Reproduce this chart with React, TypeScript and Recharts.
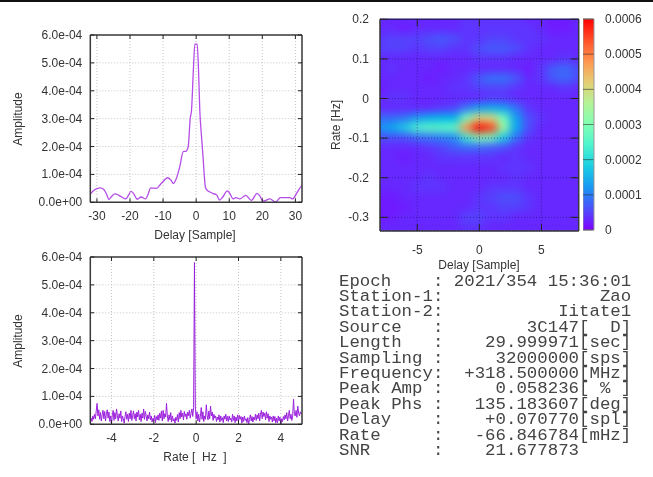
import {
  Bar,
  BarChart,
  CartesianGrid,
  Label,
  Line,
  LineChart,
  ReferenceLine,
  Scatter,
  ScatterChart,
  XAxis,
  YAxis,
} from "recharts";

const FONT = "'Liberation Sans', Arial, sans-serif";
const INK = "#333";

// amplitude vs delay, amplitude in units of 1e-4
const delaySamples = [
  -32, -31, -30, -29, -28, -27, -26.4, -25.5, -24.6, -23.5, -22.5, -21.3, -20.5, -19.7, -19, -17.8, -16.6, -15.3,
  -14.5, -13.8, -12, -10.5, -8.6, -7.5, -6.9, -6, -5, -3.9, -3.1, -2.4, -1.8, -1.4, -0.8, -0.4, 0.3, 0.7, 1.1, 1.6,
  2.1, 2.5, 2.8, 3.4, 4, 5.1, 6.1, 7.1, 8, 9.4, 10, 11.2, 12, 13.2, 15, 16.7, 18.4, 19.3, 20.2, 22.3, 24, 25.5, 28.3,
  29.1, 30.5, 31.8, 32,
];
const delayAmplitude = [
  0.29, 0.42, 0.49, 0.52, 0.47, 0.27, 0.1, 0.22, 0.3, 0.26, 0.19, 0.12, 0.24, 0.39, 0.33, 0.11, 0.19, 0.12, 0.3, 0.51,
  0.5, 0.68, 0.88, 0.78, 0.67, 0.85, 1.25, 1.82, 1.83, 2.0, 3.0, 3.3, 4.85, 5.67, 5.67, 4.8, 3.3, 2.4, 1.6, 0.9, 0.54,
  0.42, 0.38, 0.31, 0.28, 0.08, 0.18, 0.41, 0.35, 0.12, 0.17, 0.12, 0.25, 0.07, 0.32, 0.22, 0.04, 0.12, 0.01, 0.17,
  0.17, 0.12, 0.35, 0.58, 0.6,
];

// amplitude vs rate, evenly sampled over -5..5 Hz, units of 1e-4
const rateAmplitude = [
  0.15, 0.22, 0.1, 0.3, 0.18, 0.36, 0.2, 0.48, 0.75, 0.3, 0.52, 0.18, 0.42, 0.12, 0.34, 0.5, 0.2, 0.46, 0.12, 0.38,
  0.52, 0.22, 0.44, 0.1, 0.3, 0.0, 0.34, 0.5, 0.14, 0.42, 0.2, 0.55, 0.3, 0.12, 0.38, 0.22, 0.48, 0.1, 0.3, 0.2,
  0.04, 0.28, 0.45, 0.18, 0.36, 0.1, 0.4, 0.2, 0.5, 0.14, 0.32, 0.48, 0.2, 0.38, 0.12, 0.44, 0.26, 0.5, 0.16, 0.36,
  0.1, 0.4, 0.22, 0.55, 0.18, 0.46, 0.3, 0.12, 0.34, 0.2, 0.44, 0.16, 0.3, 0.08, 0.22, 0.12, 0.32, 0.06, 0.28, 0.16,
  0.34, 0.14, 0.4, 0.22, 0.48, 0.12, 0.5, 0.2, 0.38, 0.26, 0.75, 0.3, 0.1, 0.34, 0.16, 0.42, 0.08, 0.3, 0.12, 0.2,
  0.04, 0.26, 0.14, 0.35, 0.08, 0.42, 0.2, 0.5, 0.26, 0.4, 0.16, 0.46, 0.28, 0.38, 0.18, 0.44, 0.3, 0.5, 0.22, 0.4,
  0.55, 0.28, 0.6, 5.8, 0.62, 0.2, 0.45, 0.12, 0.36, 0.08, 0.28, 0.6, 0.18, 0.45, 0.1, 0.3, 0.18, 0.7, 0.3, 0.16,
  0.48, 0.2, 0.65, 0.3, 0.44, 0.14, 0.36, 0.22, 0.3, 0.1, 0.26, 0.16, 0.34, 0.08, 0.3, 0.14, 0.24, 0.06, 0.3, 0.18,
  0.36, 0.12, 0.28, 0.1, 0.3, 0.16, 0.22, 0.08, 0.36, 0.14, 0.3, 0.06, 0.26, 0.12, 0.34, 0.1, 0.32, 0.18, 0.28, 0.04,
  0.26, 0.1, 0.3, 0.14, 0.2, 0.06, 0.24, 0.0, 0.18, 0.34, 0.12, 0.28, 0.08, 0.26, 0.16, 0.36, 0.14, 0.34, 0.2, 0.4,
  0.12, 0.36, 0.5, 0.2, 0.44, 0.28, 0.4, 0.16, 0.45, 0.22, 0.38, 0.1, 0.3, 0.18, 0.26, 0.08, 0.3, 0.12, 0.28, 0.05,
  0.22, 0.06, 0.3, 0.12, 0.26, 0.02, 0.2, 0.1, 0.28, 0.16, 0.34, 0.2, 0.42, 0.12, 0.3, 0.5, 0.2, 0.36, 0.14, 0.3,
  0.9, 0.35, 0.3, 0.5, 0.25, 0.65, 0.4, 0.3, 0.45, 0.38, 0.42,
];

// fringe map: amplitude in units of 1e-5, one row per rate, one column per delay
const mapDelays = [-8, -7, -6, -5, -4, -3, -2, -1, 0, 1, 2, 3, 4, 5, 6, 7, 8];
const mapRates = [
  0.2, 0.175, 0.15, 0.125, 0.1, 0.075, 0.05, 0.025, 0, -0.025, -0.05, -0.075, -0.1, -0.125, -0.15, -0.175, -0.2,
  -0.225, -0.25, -0.275, -0.3, -0.325,
];
const mapValues = [
  [3, 3, 3, 3, 3, 3, 3, 4, 4, 4, 4, 4, 3, 3, 2, 2, 3],
  [3, 3, 2, 3, 3, 3, 3, 4, 4, 4, 4, 4, 4, 3, 2, 2, 3],
  [4, 5, 5, 5, 6, 7, 6, 4, 4, 5, 5, 4, 4, 4, 3, 3, 3],
  [5, 5, 5, 4, 5, 5, 4, 4, 6, 7, 7, 6, 4, 3, 3, 3, 3],
  [3, 3, 3, 3, 3, 3, 3, 3, 4, 4, 4, 3, 3, 3, 3, 4, 3],
  [3, 4, 3, 3, 3, 2, 3, 3, 3, 3, 3, 3, 2, 4, 7, 8, 6],
  [3, 3, 3, 3, 2, 3, 3, 4, 7, 9, 9, 7, 3, 4, 7, 8, 6],
  [2, 3, 3, 3, 3, 3, 4, 4, 5, 5, 5, 4, 3, 3, 3, 4, 3],
  [3, 4, 4, 3, 3, 3, 3, 3, 3, 4, 4, 3, 3, 3, 3, 3, 3],
  [3, 3, 3, 3, 3, 4, 5, 9, 13, 14, 13, 9, 4, 3, 3, 3, 3],
  [8, 8, 9, 12, 14, 15, 15, 28, 40, 40, 28, 13, 6, 4, 3, 3, 3],
  [12, 14, 18, 24, 26, 26, 27, 48, 68, 56, 34, 14, 6, 3, 3, 3, 3],
  [6, 6, 6, 8, 9, 10, 11, 22, 30, 28, 18, 9, 4, 3, 3, 3, 3],
  [3, 3, 3, 3, 4, 5, 7, 8, 8, 7, 6, 4, 3, 3, 3, 3, 3],
  [3, 3, 2, 3, 3, 4, 4, 4, 4, 4, 3, 4, 3, 3, 3, 3, 3],
  [3, 3, 3, 3, 3, 3, 3, 3, 3, 3, 4, 4, 4, 3, 3, 3, 3],
  [3, 3, 3, 3, 4, 3, 3, 3, 3, 3, 3, 4, 3, 3, 3, 3, 3],
  [3, 3, 3, 4, 4, 4, 3, 3, 3, 4, 4, 4, 3, 3, 3, 3, 3],
  [2, 2, 3, 3, 3, 3, 3, 3, 4, 5, 6, 6, 4, 3, 3, 3, 3],
  [2, 2, 2, 3, 3, 3, 3, 3, 4, 4, 5, 5, 4, 3, 3, 3, 3],
  [2, 2, 3, 3, 3, 3, 3, 5, 5, 4, 4, 3, 3, 3, 3, 3, 3],
  [3, 3, 3, 3, 3, 3, 3, 4, 4, 3, 3, 3, 3, 3, 3, 3, 3],
];

const ampTicks = [0, 1e-4, 2e-4, 3e-4, 4e-4, 5e-4, 6e-4];
const delayTicks = [-30, -20, -10, 0, 10, 20, 30];
const rateTicks = [-4, -2, 0, 2, 4];
const mapDelayTicks = [-5, 0, 5];
const mapRateTicks = [0.2, 0.1, 0, -0.1, -0.2, -0.3];
const colorTicks = [0, 1e-4, 2e-4, 3e-4, 4e-4, 5e-4, 6e-4];
const colorStops = [0, 0.1, 0.2, 0.3, 0.4, 0.5, 0.6, 0.7, 0.8, 0.9, 1];

const infoLines = [
  "Epoch    : 2021/354 15:36:01",
  "Station-1:               Zao",
  "Station-2:           Iitate1",
  "Source   :        3C147[  D]",
  "Length   :    29.999971[sec]",
  "Sampling :     32000000[sps]",
  "Frequency:  +318.500000[MHz]",
  "Peak Amp :     0.058236[ % ]",
  "Peak Phs :   135.183607[deg]",
  "Delay    :    +0.070770[spl]",
  "Rate     :   -66.846784[mHz]",
  "SNR      :    21.677873",
];

const delayData = delaySamples.map((delay, i) => ({ delay, amp: delayAmplitude[i] * 1e-4 }));
const rateData = rateAmplitude.map((amp, i) => ({ rate: -5 + (i * 10) / (rateAmplitude.length - 1), amp: amp * 1e-4 }));
const mapData = mapRates.flatMap((rate, r) =>
  mapDelays.map((delay, c) => ({ delay, rate, value: mapValues[r][c] * 1e-5 }))
);

const MAP_X: [number, number] = [-8, 8];
const MAP_Y: [number, number] = [-0.3345, 0.2];

// gnuplot's rainbow palette (rgbformulae 33,13,10)
function rainbow(t: number) {
  const x = Math.min(1, Math.max(0, t));
  const r = Math.min(1, Math.abs(2 * x - 0.5));
  const g = Math.sin(Math.PI * x);
  const b = Math.cos((Math.PI * x) / 2);
  return `rgb(${Math.round(r * 255)},${Math.round(g * 255)},${Math.round(b * 255)})`;
}

const expLabel = (v: number) =>
  v.toExponential(1).replace(/e([+-])(\d)$/, (_m, sign, digit) => `e${sign}0${digit}`);

type TickOpts = { dx?: number; dy?: number; format?: (v: number) => string; tx?: number; ty?: number; anchor?: string };

function tickOf({ dx = 0, dy = 0, format, tx = 0, ty = 0, anchor = "middle" }: TickOpts) {
  return (props: any) => (
    <g>
      <line x1={props.x} y1={props.y} x2={props.x + dx} y2={props.y + dy} stroke="#222" />
      {format ? (
        <text x={props.x + tx} y={props.y + ty} textAnchor={anchor} fontSize={12} fontFamily={FONT} fill={INK}>
          {format(props.payload.value)}
        </text>
      ) : null}
    </g>
  );
}

function axisTitle(text: string, x: number, y: number, rotate = false) {
  return (
    <Label
      content={() => (
        <text
          x={x}
          y={y}
          textAnchor="middle"
          dominantBaseline="middle"
          fontSize={12}
          fontFamily={FONT}
          fill={INK}
          style={{ whiteSpace: "pre" }}
          transform={rotate ? `rotate(-90 ${x} ${y})` : undefined}
        >
          {text}
        </text>
      )}
    />
  );
}

const frame = { stroke: "#3a3a3a", strokeWidth: 1.5 };

type ProfileProps = {
  data: { amp: number }[];
  dataKey: string;
  domain: [number, number];
  ticks: number[];
  title: string;
  top: number;
  color: string;
  lineWidth: number;
  curve: "monotone" | "linear";
};

function Profile({ data, dataKey, domain, ticks, title, top, color, lineWidth, curve }: ProfileProps) {
  return (
    <div style={{ position: "absolute", left: 0, top: top }}>
      <LineChart width={320} height={240} data={data} margin={{ top: 14, right: 17, bottom: 0, left: 0 }}>
        <CartesianGrid stroke="#c4c4c4" strokeDasharray="1 2" />
        <XAxis
          dataKey={dataKey}
          type="number"
          domain={domain}
          ticks={ticks}
          height={57.7}
          tickSize={0}
          tickMargin={0}
          tickLine={false}
          axisLine={frame}
          interval={0}
          allowDataOverflow
          tick={tickOf({ dy: -4, format: (v) => String(v), ty: 17.5 })}
        >
          {axisTitle(title, 195, 216)}
        </XAxis>
        <XAxis
          xAxisId="top"
          dataKey={dataKey}
          orientation="top"
          type="number"
          domain={domain}
          ticks={ticks}
          height={1}
          tickSize={0}
          tickMargin={0}
          tickLine={false}
          axisLine={frame}
          interval={0}
          allowDataOverflow
          tick={tickOf({ dy: 4 })}
        />
        <YAxis
          type="number"
          domain={[0, 6e-4]}
          ticks={ampTicks}
          width={90.3}
          tickSize={0}
          tickMargin={0}
          tickLine={false}
          axisLine={frame}
          interval={0}
          tick={tickOf({ dx: 4, format: expLabel, tx: -8, ty: 4, anchor: "end" })}
        >
          {axisTitle("Amplitude", 18.5, 99, true)}
        </YAxis>
        <YAxis
          yAxisId="right"
          orientation="right"
          type="number"
          domain={[0, 6e-4]}
          ticks={ampTicks}
          width={1}
          tickSize={0}
          tickMargin={0}
          tickLine={false}
          axisLine={frame}
          interval={0}
          tick={tickOf({ dx: -4 })}
        />
        {/* keeps the top and right axes on the same scale as the bottom and left ones */}
        <Line
          xAxisId="top"
          yAxisId="right"
          dataKey="amp"
          stroke="none"
          dot={false}
          legendType="none"
          isAnimationActive={false}
        />
        <Line
          type={curve}
          dataKey="amp"
          stroke={color}
          strokeWidth={lineWidth}
          dot={false}
          isAnimationActive={false}
        />
      </LineChart>
    </div>
  );
}

function HeatCell(props: any) {
  return (
    <rect
      x={props.cx - 7}
      y={props.cy - 5.5}
      width={14}
      height={11}
      fill={rainbow(props.payload.value / 6e-4)}
    />
  );
}

const NoMark = () => <g />;

// cells and tick labels; the frame, ticks and grid sit in MapOverlay since the blur paints over axes
function FringeMap() {
  return (
    <div className="fringe-cells" style={{ position: "absolute", left: 320, top: 0 }}>
      <ScatterChart width={270} height={280} margin={{ top: 19.3, right: 11.3, bottom: 0, left: 0 }}>
        <defs>
          <clipPath id="heatClip" clipPathUnits="userSpaceOnUse">
            <rect x={60} y={19.3} width={198.7} height={211.7} />
          </clipPath>
        </defs>
        <CartesianGrid stroke="none" fill={rainbow(0.05)} />
        <XAxis
          dataKey="delay"
          type="number"
          domain={MAP_X}
          ticks={mapDelayTicks}
          height={49}
          tickSize={0}
          tickMargin={0}
          tickLine={false}
          axisLine={false}
          interval={0}
          tick={tickOf({ format: (v) => String(v), ty: 22.5 })}
        >
          {axisTitle("Delay [Sample]", 159, 265.5)}
        </XAxis>
        <YAxis
          dataKey="rate"
          type="number"
          domain={MAP_Y}
          ticks={mapRateTicks}
          width={60}
          tickSize={0}
          tickMargin={0}
          tickLine={false}
          axisLine={false}
          interval={0}
          tick={tickOf({ format: (v) => String(v), tx: -11, ty: 4, anchor: "end" })}
        >
          {axisTitle("Rate [Hz]", 17, 125, true)}
        </YAxis>
        <Scatter data={mapData} shape={HeatCell} isAnimationActive={false} />
      </ScatterChart>
    </div>
  );
}

function MapOverlay() {
  return (
    <div style={{ position: "absolute", left: 320, top: 0 }}>
      <ScatterChart width={270} height={280} margin={{ top: 18.3, right: 10.3, bottom: 0, left: 0 }}>
        <CartesianGrid stroke="#1a1060" strokeOpacity={0.55} strokeDasharray="1 2" fill="none" />
        <XAxis
          dataKey="delay"
          type="number"
          domain={MAP_X}
          ticks={mapDelayTicks}
          height={49}
          tickSize={0}
          tickMargin={0}
          tickLine={false}
          axisLine={frame}
          interval={0}
          tick={tickOf({ dy: -7 })}
        />
        <XAxis
          xAxisId="top"
          dataKey="delay"
          orientation="top"
          type="number"
          domain={MAP_X}
          ticks={mapDelayTicks}
          height={1}
          tickSize={0}
          tickMargin={0}
          tickLine={false}
          axisLine={{ stroke: "#2a1a70", strokeWidth: 1.5 }}
          interval={0}
          tick={tickOf({ dy: 7 })}
        />
        <YAxis
          dataKey="rate"
          type="number"
          domain={MAP_Y}
          ticks={mapRateTicks}
          width={60}
          tickSize={0}
          tickMargin={0}
          tickLine={false}
          axisLine={frame}
          interval={0}
          tick={tickOf({ dx: 8 })}
        />
        <YAxis
          yAxisId="right"
          dataKey="rate"
          orientation="right"
          type="number"
          domain={MAP_Y}
          ticks={mapRateTicks}
          width={1}
          tickSize={0}
          tickMargin={0}
          tickLine={false}
          axisLine={frame}
          interval={0}
          tick={tickOf({ dx: -8 })}
        />
        <Scatter data={mapData} shape={NoMark} isAnimationActive={false} />
        <Scatter xAxisId="top" yAxisId="right" data={mapData} shape={NoMark} isAnimationActive={false} />
      </ScatterChart>
    </div>
  );
}

function ColorBar() {
  return (
    <div style={{ position: "absolute", left: 583, top: 9.3 }}>
      <BarChart
        width={70}
        height={232}
        data={[{ name: "scale", top: 6e-4 }]}
        barCategoryGap={0}
        margin={{ top: 10, right: 0, bottom: 11, left: 0 }}
      >
        <defs>
          <linearGradient id="colorScale" x1="0" y1="1" x2="0" y2="0">
            {colorStops.map((s) => (
              <stop key={s} offset={s} stopColor={rainbow(s)} />
            ))}
          </linearGradient>
        </defs>
        <XAxis dataKey="name" hide />
        <YAxis
          orientation="right"
          yAxisId="right"
          type="number"
          domain={[0, 6e-4]}
          ticks={colorTicks}
          width={59.5}
          tickSize={0}
          tickMargin={0}
          tickLine={false}
          axisLine={false}
          interval={0}
          tick={tickOf({ format: (v) => String(Number(v.toFixed(4))), tx: 11.5, ty: 4, anchor: "start" })}
        />
        <Bar yAxisId="right" dataKey="top" fill="url(#colorScale)" stroke="#999" isAnimationActive={false} />
        {colorTicks.map((v) => (
          <ReferenceLine key={v} yAxisId="right" y={v} stroke="#222" strokeOpacity={0.55} />
        ))}
      </BarChart>
    </div>
  );
}

export default function App() {
  return (
    <div
      style={{
        position: "absolute",
        left: 0,
        top: 0,
        width: 653,
        height: 477,
        background: "#fff",
        overflow: "hidden",
        filter: "blur(0.4px)",
      }}
    >
      <style>{`.fringe-cells .recharts-scatter { filter: blur(4px); clip-path: url(#heatClip); }`}</style>
      <div style={{ position: "absolute", left: 0, top: 0, width: 653, height: 1.5, background: "#111" }} />
      <Profile data={delayData} dataKey="delay" domain={[-32, 32]} ticks={delayTicks} title="Delay [Sample]" top={20} color="#b44ce8" lineWidth={1.3} curve="monotone" />
      <Profile data={rateData} dataKey="rate" domain={[-5, 5]} ticks={rateTicks} title="Rate [  Hz  ]" top={242} color="#9a20dc" lineWidth={1} curve="linear" />
      <FringeMap />
      <MapOverlay />
      <ColorBar />
      <pre
        style={{
          position: "absolute",
          left: 339,
          top: 273.5,
          margin: 0,
          fontFamily: "'Liberation Mono', monospace",
          fontSize: 17.4,
          lineHeight: "15.4px",
          color: "#444",
        }}
      >
        {infoLines.join("\n")}
      </pre>
    </div>
  );
}
